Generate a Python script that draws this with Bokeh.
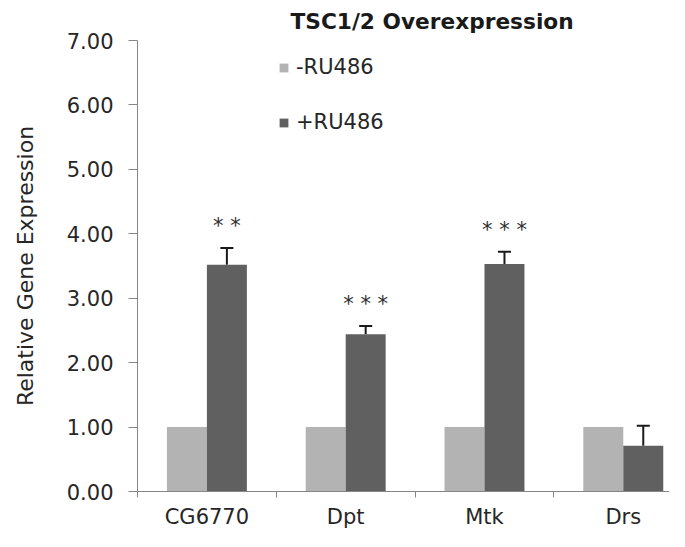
import numpy as np
from bokeh.plotting import figure
from bokeh.models import (Range1d, FixedTicker, NumeralTickFormatter, Whisker,
                          TeeHead, ColumnDataSource, Legend, LegendItem)
from bokeh.core.properties import value
from bokeh.embed import file_html
from bokeh.resources import INLINE

# ---- data ----
categories = ["CG6770", "Dpt", "Mtk", "Drs"]
minus_ru486 = [1.00, 1.00, 1.00, 1.00]
plus_ru486 = [3.52, 2.44, 3.53, 0.71]
plus_err = [0.26, 0.13, 0.19, 0.31]
stars = ["* *", "* * *", "* * *", ""]
y_ticks = [0, 1, 2, 3, 4, 5, 6, 7]

FONT = "DejaVu Sans"
TXT = "#262626"
AX = "#868686"
LIGHT = "#b3b3b3"
DARK = "#606060"

idx = np.arange(len(categories))
centers = idx + 0.5
bw = 0.288

p = figure(width=669, height=531, output_backend="svg", toolbar_location=None,
           x_range=Range1d(0, 3.833), y_range=Range1d(0, 7),
           min_border_left=137, min_border_right=0, min_border_top=34,
           min_border_bottom=39)
p.outline_line_color = None
p.grid.visible = False
p.background_fill_color = "white"

src = ColumnDataSource(dict(
    xl=centers - bw / 2, xd=centers + bw / 2,
    minus=minus_ru486, plus=plus_ru486,
    up=[v + e for v, e in zip(plus_ru486, plus_err)],
    stars=stars))

r1 = p.vbar(x="xl", top="minus", width=bw, bottom=0, source=src,
            fill_color=LIGHT, line_color=None)
r2 = p.vbar(x="xd", top="plus", width=bw, bottom=0, source=src,
            fill_color=DARK, line_color=None)

wh = Whisker(base="xd", lower="plus", upper="up", source=src,
             line_color="#1a1a1a", line_width=2,
             upper_head=TeeHead(size=13, line_color="#1a1a1a", line_width=2),
             lower_head=None)
p.add_layout(wh)

p.text(x="xd", y="up", text="stars", source=src, text_align="center",
       text_baseline="middle", y_offset=-22, text_font=value(FONT),
       text_font_size="21px", text_color="#2e2e2e")

# axes
xa = p.xaxis[0]
xa.ticker = FixedTicker(ticks=list(centers), minor_ticks=list(range(len(categories) + 1)))
xa.major_label_overrides = {float(c): n for c, n in zip(centers, categories)}
xa.major_tick_out = 0
xa.major_tick_in = 0
xa.minor_tick_out = 6
xa.minor_tick_in = 0
xa.axis_line_color = AX
xa.minor_tick_line_color = AX
xa.major_label_text_font = FONT
xa.major_label_text_font_size = "21px"
xa.major_label_text_color = TXT
xa.major_label_standoff = 7

ya = p.yaxis[0]
ya.ticker = FixedTicker(ticks=y_ticks, minor_ticks=[])
ya.formatter = NumeralTickFormatter(format="0.00")
ya.major_tick_out = 9
ya.major_tick_in = 0
ya.axis_line_color = AX
ya.major_tick_line_color = AX
ya.major_label_text_font = FONT
ya.major_label_text_font_size = "21px"
ya.major_label_text_color = TXT
ya.major_label_standoff = 15
ya.axis_label = "Relative Gene Expression"
ya.axis_label_text_font = FONT
ya.axis_label_text_font_size = "22px"
ya.axis_label_text_font_style = "normal"
ya.axis_label_text_color = TXT
ya.axis_label_standoff = 26

# title
p.title.text = "TSC1/2 Overexpression"
p.title.text_font = FONT
p.title.text_font_size = "21.7px"
p.title.text_font_style = "bold"
p.title.text_color = "#1a1a1a"
p.title.align = "left"
p.title.offset = 153
p.title.standoff = 13

legend = Legend(items=[LegendItem(label="-RU486", renderers=[r1]),
                       LegendItem(label="+RU486", renderers=[r2])],
                location=(141, 357), glyph_width=11, glyph_height=11,
                label_height=20, spacing=31, padding=0, margin=0,
                label_standoff=7, border_line_color=None,
                background_fill_alpha=0, label_text_font=FONT,
                label_text_font_size="21px", label_text_color=TXT)
p.add_layout(legend, "center")

open("out.html", "w").write(file_html(p, INLINE))
